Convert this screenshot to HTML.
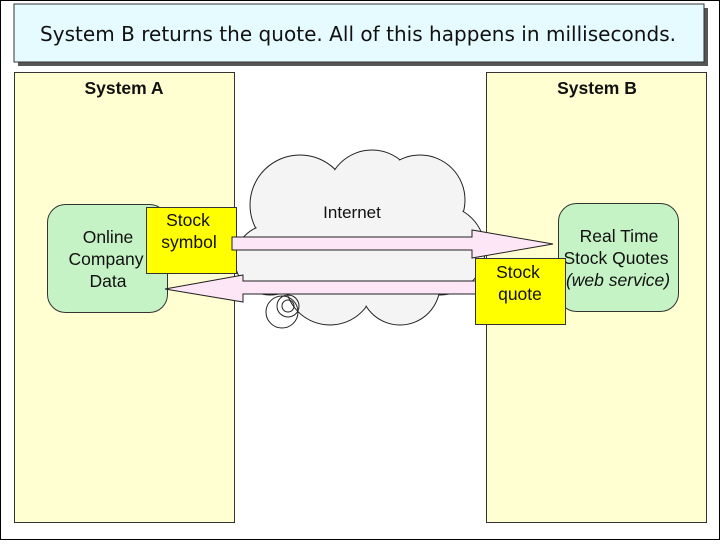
<!DOCTYPE html>
<html><head><meta charset="utf-8"><style>
body{margin:0;width:720px;height:540px;background:#fff;overflow:hidden}
</style></head><body>
<svg width="720" height="540" viewBox="0 0 720 540" xmlns="http://www.w3.org/2000/svg" font-family="Liberation Sans, Arial, sans-serif">
<rect x="0.5" y="0.5" width="719" height="539" fill="#fff" stroke="#000"/>
<rect x="18" y="8" width="690" height="58" fill="#555"/>
<rect x="14" y="4" width="690" height="58" fill="#e6fbff" stroke="#333"/>
<text x="358" y="41" text-anchor="middle" font-family="DejaVu Sans, sans-serif" font-size="20" fill="#111" textLength="636">System B returns the quote. All of this happens in milliseconds.</text>
<rect x="14.5" y="72.5" width="220" height="450" fill="#ffffd2" stroke="#333"/>
<rect x="486.5" y="72.5" width="220" height="450" fill="#ffffd2" stroke="#333"/>
<text x="124" y="94" text-anchor="middle" font-size="17.5" font-weight="bold" fill="#111">System A</text>
<text x="597" y="94" text-anchor="middle" font-size="17.5" font-weight="bold" fill="#111">System B</text>
<!-- cloud -->
<g stroke="#222" stroke-width="1" fill="#f4f4f4">
<circle cx="300" cy="205" r="50"/><circle cx="372" cy="195" r="45"/><circle cx="420" cy="200" r="45"/>
<circle cx="440" cy="250" r="45"/><circle cx="270" cy="260" r="35"/><circle cx="330" cy="280" r="45"/>
<circle cx="400" cy="285" r="40"/><circle cx="355" cy="240" r="50"/>
</g>
<g fill="#f4f4f4">
<circle cx="300" cy="205" r="49"/><circle cx="372" cy="195" r="44"/><circle cx="420" cy="200" r="44"/>
<circle cx="440" cy="250" r="44"/><circle cx="270" cy="260" r="34"/><circle cx="330" cy="280" r="44"/>
<circle cx="400" cy="285" r="39"/><circle cx="355" cy="240" r="49"/>
</g>
<g fill="none" stroke="#222"><circle cx="288" cy="306" r="11"/><circle cx="288" cy="306" r="6"/><circle cx="282" cy="312" r="16"/></g>
<text x="352" y="218" text-anchor="middle" font-size="17" fill="#111">Internet</text>
<!-- green boxes -->
<rect x="47.5" y="204.5" width="120" height="108" rx="18" fill="#c6f3c6" stroke="#333"/>
<text x="108" y="243" text-anchor="middle" font-size="17.5" fill="#111">Online</text>
<text x="106" y="265" text-anchor="middle" font-size="17.5" fill="#111">Company</text>
<text x="108" y="287" text-anchor="middle" font-size="17.5" fill="#111">Data</text>
<rect x="558.5" y="203.5" width="120" height="108" rx="18" fill="#c6f3c6" stroke="#333"/>
<text x="619" y="242" text-anchor="middle" font-size="17.5" fill="#111">Real Time</text>
<text x="616" y="264" text-anchor="middle" font-size="17.5" fill="#111">Stock Quotes</text>
<text x="618" y="286" text-anchor="middle" font-size="17.5" font-style="italic" fill="#111">(web service)</text>
<!-- stock symbol -->
<rect x="146.5" y="207.5" width="90" height="66" fill="#ffff00" stroke="#333"/>
<text x="188" y="226" text-anchor="middle" font-size="17.5" fill="#111">Stock</text>
<text x="189" y="248" text-anchor="middle" font-size="17.5" fill="#111">symbol</text>
<!-- arrows -->
<polygon points="232,237 472,237 472,230 553,244 472,258 472,250 232,250" fill="#fde6f6" stroke="#222"/>
<polygon points="480,281 243,281 243,275 165,289 243,302 243,294 480,294" fill="#fde6f6" stroke="#222"/>
<!-- stock quote -->
<rect x="475.5" y="258.5" width="90" height="66" fill="#ffff00" stroke="#333"/>
<text x="518" y="278" text-anchor="middle" font-size="17.5" fill="#111">Stock</text>
<text x="520" y="300" text-anchor="middle" font-size="17.5" fill="#111">quote</text>
</svg>
</body></html>
